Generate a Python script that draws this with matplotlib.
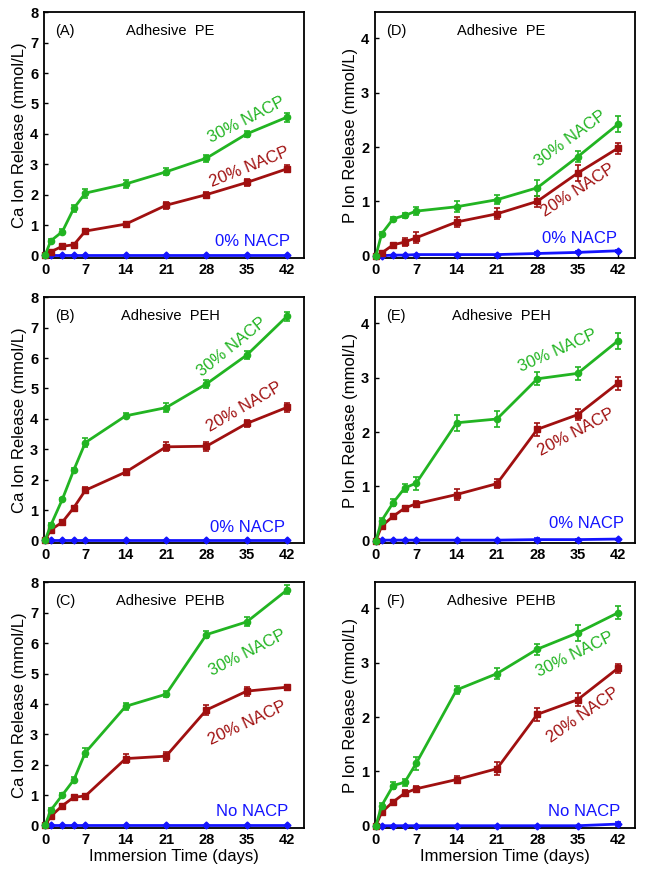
import numpy as np
import matplotlib.pyplot as plt

plt.rcParams['font.family'] = ['Liberation Sans', 'DejaVu Sans']

# immersion days
days = [0, 1, 3, 5, 7, 14, 21, 28, 35, 42]

# Ca release, adhesive PE (A)
ca_pe_30 = [0, 0.48, 0.78, 1.55, 2.05, 2.35, 2.75, 3.2, 4.0, 4.55]
ca_pe_30_err = [0.02, 0.05, 0.08, 0.12, 0.15, 0.12, 0.12, 0.12, 0.1, 0.15]
ca_pe_20 = [0, 0.12, 0.3, 0.35, 0.8, 1.03, 1.65, 2.0, 2.4, 2.85]
ca_pe_20_err = [0.02, 0.04, 0.05, 0.06, 0.08, 0.07, 0.12, 0.08, 0.1, 0.12]
ca_pe_0 = [0, 0, 0, 0, 0, 0, 0, 0, 0, 0]

# Ca release, adhesive PEH (B)
ca_peh_30 = [0, 0.5, 1.35, 2.32, 3.22, 4.1, 4.37, 5.15, 6.1, 7.38]
ca_peh_30_err = [0.02, 0.06, 0.06, 0.05, 0.15, 0.08, 0.15, 0.12, 0.12, 0.15]
ca_peh_20 = [0, 0.35, 0.6, 1.08, 1.65, 2.25, 3.08, 3.1, 3.85, 4.38]
ca_peh_20_err = [0.02, 0.05, 0.05, 0.06, 0.1, 0.1, 0.15, 0.15, 0.12, 0.15]
ca_peh_0 = [0, 0, 0, 0, 0, 0, 0, 0, 0, 0]

# Ca release, adhesive PEHB (C)
ca_pehb_30 = [0, 0.5, 1.0, 1.5, 2.4, 3.92, 4.32, 6.28, 6.7, 7.75]
ca_pehb_30_err = [0.02, 0.06, 0.06, 0.08, 0.15, 0.12, 0.1, 0.12, 0.15, 0.15]
ca_pehb_20 = [0, 0.3, 0.65, 0.93, 0.97, 2.2, 2.28, 3.8, 4.42, 4.55]
ca_pehb_20_err = [0.02, 0.05, 0.05, 0.06, 0.08, 0.15, 0.15, 0.15, 0.15, 0.08]
ca_pehb_0 = [0, 0, 0, 0, 0, 0, 0, 0, 0, 0]

# P release, adhesive PE (D)
p_pe_30 = [0, 0.4, 0.68, 0.74, 0.82, 0.9, 1.03, 1.25, 1.82, 2.42]
p_pe_30_err = [0.01, 0.03, 0.03, 0.04, 0.08, 0.1, 0.08, 0.15, 0.1, 0.15]
p_pe_20 = [0, 0.05, 0.2, 0.25, 0.33, 0.62, 0.77, 1.0, 1.52, 1.98]
p_pe_20_err = [0.01, 0.03, 0.04, 0.08, 0.1, 0.1, 0.1, 0.1, 0.15, 0.1]
p_pe_0 = [0, 0, 0.01, 0.01, 0.02, 0.02, 0.02, 0.04, 0.06, 0.09]
p_pe_0_err = [0, 0, 0, 0, 0, 0, 0, 0.03, 0.02, 0.02]

# P release, adhesive PEH (E)
p_peh_30 = [0, 0.37, 0.7, 0.97, 1.06, 2.17, 2.24, 2.98, 3.08, 3.68]
p_peh_30_err = [0.01, 0.05, 0.07, 0.08, 0.12, 0.15, 0.15, 0.12, 0.12, 0.15]
p_peh_20 = [0, 0.27, 0.45, 0.6, 0.68, 0.85, 1.05, 2.05, 2.32, 2.9]
p_peh_20_err = [0.01, 0.03, 0.03, 0.04, 0.05, 0.1, 0.08, 0.12, 0.1, 0.12]
p_peh_0 = [0, 0.01, 0.01, 0.01, 0.01, 0.01, 0.01, 0.02, 0.02, 0.03]
p_peh_0_err = [0, 0, 0, 0, 0, 0, 0, 0.03, 0.02, 0.01]

# P release, adhesive PEHB (F)
p_pehb_30 = [0, 0.37, 0.74, 0.8, 1.15, 2.5, 2.8, 3.25, 3.55, 3.92]
p_pehb_30_err = [0.01, 0.05, 0.06, 0.06, 0.12, 0.08, 0.1, 0.1, 0.15, 0.12]
p_pehb_20 = [0, 0.25, 0.44, 0.6, 0.68, 0.85, 1.05, 2.05, 2.32, 2.9]
p_pehb_20_err = [0.01, 0.03, 0.03, 0.05, 0.05, 0.06, 0.12, 0.12, 0.12, 0.08]
p_pehb_0 = [0, 0, 0, 0, 0, 0, 0, 0, 0, 0.03]
p_pehb_0_err = [0, 0, 0, 0, 0, 0, 0, 0, 0, 0.03]

green = '#22b422'
red = '#a01010'
blue = '#1414ff'

panels = [
    # (letter, adhesive, ion, s30, e30, s20, e20, s0, e0, zero label, label positions)
    ('(A)', 'Adhesive  PE', 'Ca', ca_pe_30, ca_pe_30_err, ca_pe_20, ca_pe_20_err,
     ca_pe_0, None, '0% NACP', [(35, 4.45, 27), (35.4, 2.92, 22), (36, 0.46, 0)]),
    ('(B)', 'Adhesive  PEH', 'Ca', ca_peh_30, ca_peh_30_err, ca_peh_20, ca_peh_20_err,
     ca_peh_0, None, '0% NACP', [(32.5, 6.36, 39), (34.5, 4.38, 30), (35.1, 0.44, 0)]),
    ('(C)', 'Adhesive  PEHB', 'Ca', ca_pehb_30, ca_pehb_30_err, ca_pehb_20, ca_pehb_20_err,
     ca_pehb_0, None, 'No NACP', [(35.1, 5.69, 27), (35.1, 3.38, 25), (36, 0.47, 0)]),
    ('(D)', 'Adhesive  PE', 'P', p_pe_30, p_pe_30_err, p_pe_20, p_pe_20_err,
     p_pe_0, p_pe_0_err, '0% NACP', [(33.7, 2.15, 36), (35.1, 1.2, 33), (35.4, 0.31, 0)]),
    ('(E)', 'Adhesive  PEH', 'P', p_peh_30, p_peh_30_err, p_peh_20, p_peh_20_err,
     p_peh_0, p_peh_0_err, '0% NACP', [(31.6, 3.49, 24), (34.8, 2.0, 28), (36.5, 0.31, 0)]),
    ('(F)', 'Adhesive  PEHB', 'P', p_pehb_30, p_pehb_30_err, p_pehb_20, p_pehb_20_err,
     p_pehb_0, p_pehb_0_err, 'No NACP', [(34.5, 3.16, 26), (36, 2.03, 35), (36.2, 0.26, 0)]),
]

fig = plt.figure(figsize=(6.45, 8.77), dpi=100)

lefts = [0.068, 0.581]
bottoms = [0.706, 0.381, 0.056]
w, h = 0.404, 0.28

for i, p in enumerate(panels):
    letter, adh, ion, s30, e30, s20, e20, s0, e0, zlab, pos = p
    col = i // 3
    row = i % 3
    ax = fig.add_axes([lefts[col], bottoms[row], w, h])

    kw = dict(lw=2, capsize=2.5, elinewidth=1.2, capthick=1.2, clip_on=False)
    ax.errorbar(days, s0, yerr=e0, color=blue, marker='D', ms=3.5, zorder=3, **kw)
    ax.errorbar(days, s20, yerr=e20, color=red, marker='s', ms=4.5, zorder=4, **kw)
    ax.errorbar(days, s30, yerr=e30, color=green, marker='o', ms=4.5, zorder=5, **kw)

    ax.set_xlim(-0.2, 45)
    ax.set_xticks([0, 7, 14, 21, 28, 35, 42])
    if ion == 'Ca':
        ax.set_ylim(-0.08, 8)
        ax.set_yticks(range(0, 9))
    else:
        ax.set_ylim(-0.04, 4.48)
        ax.set_yticks(range(0, 5))

    ax.tick_params(direction='in', length=3, width=1, labelsize=10.5, pad=4)
    for lab in ax.get_xticklabels() + ax.get_yticklabels():
        lab.set_fontweight('bold')
    for sp in ax.spines.values():
        sp.set_linewidth(1.3)

    ax.set_ylabel(f'{ion} Ion Release (mmol/L)', fontsize=12, labelpad=2)
    if row == 2:
        ax.set_xlabel('Immersion Time (days)', fontsize=12, labelpad=1)

    ax.text(0.045, 0.925, letter, transform=ax.transAxes, fontsize=10.5,
            ha='left', va='center')
    ax.text(0.485, 0.925, adh, transform=ax.transAxes, fontsize=10.5,
            ha='center', va='center')

    labels = ['30% NACP', '20% NACP', zlab]
    colors = [green, red, blue]
    for (x, y, r), t, c in zip(pos, labels, colors):
        ax.text(x, y, t, color=c, fontsize=12, rotation=r, rotation_mode='anchor',
                ha='center', va='center')

fig.savefig('out.png', dpi=100)
